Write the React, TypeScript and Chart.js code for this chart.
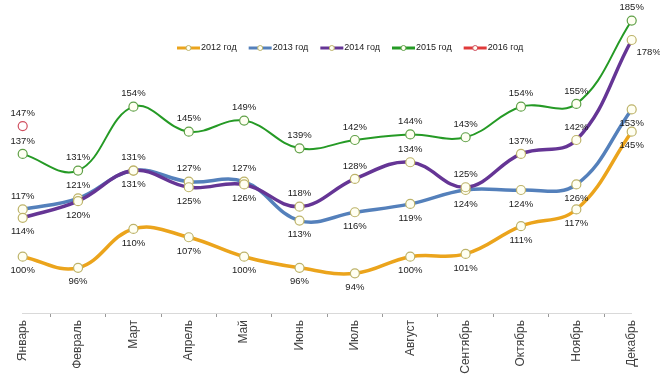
import React, { useEffect, useRef } from 'react';
import { Chart, registerables } from 'chart.js';

Chart.register(...registerables);

const months = ['Январь', 'Февраль', 'Март', 'Апрель', 'Май', 'Июнь', 'Июль', 'Август', 'Сентябрь', 'Октябрь', 'Ноябрь', 'Декабрь'];
const seriesNames = ['2012 год', '2013 год', '2014 год', '2015 год', '2016 год'];

const values2012 = [100, 96, 110, 107, 100, 96, 94, 100, 101, 111, 117, 145];
const values2013 = [117, 121, 131, 127, 127, 113, 116, 119, 124, 124, 126, 153];
const values2014 = [114, 120, 131, 125, 126, 118, 128, 134, 125, 137, 142, 178];
const values2015 = [137, 131, 154, 145, 149, 139, 142, 144, 143, 154, 155, 185];
const values2016 = [147, null, null, null, null, null, null, null, null, null, null, null];

// which side of the point each value label sits: a = above, b = below, r = right
const sides2012 = ['b', 'b', 'b', 'b', 'b', 'b', 'b', 'b', 'b', 'b', 'b', 'b'];
const sides2013 = ['a', 'a', 'a', 'a', 'a', 'b', 'b', 'b', 'b', 'b', 'b', 'b'];
const sides2014 = ['b', 'b', 'b', 'b', 'b', 'a', 'a', 'a', 'a', 'a', 'a', 'r'];
const sides2015 = ['a', 'a', 'a', 'a', 'a', 'a', 'a', 'a', 'a', 'a', 'a', 'a'];
const sides2016 = ['a'];

const FONT = '"Liberation Sans", Arial, sans-serif';

const valueLabelPlugin = {
  id: 'valueLabels',
  afterDatasetsDraw(chart: any) {
    const ctx = chart.ctx;
    ctx.save();
    ctx.font = `9.5px ${FONT}`;
    ctx.fillStyle = '#1a1a1a';
    ctx.textAlign = 'center';
    ctx.textBaseline = 'middle';
    chart.data.datasets.forEach((ds: any, di: number) => {
      const meta = chart.getDatasetMeta(di);
      meta.data.forEach((pt: any, i: number) => {
        const v = ds.data[i];
        if (v === null || v === undefined) return;
        const side = ds.labelSides[i] || 'a';
        let x = pt.x;
        let y = pt.y;
        if (side === 'a') y -= 13;
        else if (side === 'b') y += 14;
        else { x += 17; y += 12; }
        ctx.fillText(`${v}%`, x, y);
      });
    });
    ctx.restore();
  },
};

const legendPlugin = {
  id: 'customLegend',
  afterDraw(chart: any) {
    const ctx = chart.ctx;
    ctx.save();
    ctx.font = `9px ${FONT}`;
    ctx.textBaseline = 'middle';
    ctx.textAlign = 'left';
    let x = 177;
    const y = 48;
    chart.data.datasets.forEach((ds: any) => {
      ctx.strokeStyle = ds.borderColor;
      ctx.lineWidth = 3;
      ctx.beginPath();
      ctx.moveTo(x, y);
      ctx.lineTo(x + 23, y);
      ctx.stroke();
      ctx.beginPath();
      ctx.arc(x + 11.5, y, 2.5, 0, Math.PI * 2);
      ctx.fillStyle = '#fffff2';
      ctx.fill();
      ctx.lineWidth = 1;
      ctx.strokeStyle = ds.pointBorderColor;
      ctx.stroke();
      ctx.fillStyle = '#1a1a1a';
      ctx.fillText(ds.label, x + 24, y);
      x += 24 + ctx.measureText(ds.label).width + 12;
    });
    ctx.restore();
  },
};

export default function App() {
  const canvasRef = useRef<HTMLCanvasElement | null>(null);

  useEffect(() => {
    if (!canvasRef.current) return;
    const mk = (i: number, data: any[], color: string, width: number, pointBorder: string, pointFill: string, sides: string[]) => ({
      label: seriesNames[i],
      data,
      borderColor: color,
      backgroundColor: color,
      borderWidth: width,
      tension: 0.4,
      pointRadius: 4.5,
      pointBorderWidth: 1.2,
      pointBackgroundColor: pointFill,
      pointBorderColor: pointBorder,
      order: 4 - i,
      clip: false,
      labelSides: sides,
    });
    const chart = new Chart(canvasRef.current, {
      type: 'line',
      data: {
        labels: months,
        datasets: [
          mk(0, values2012, '#eba41c', 3.5, '#bdb36a', '#fffff2', sides2012),
          mk(1, values2013, '#5480bb', 3.5, '#bdb36a', '#fffff2', sides2013),
          mk(2, values2014, '#653595', 3.5, '#bdb36a', '#fffff2', sides2014),
          mk(3, values2015, '#259a25', 2, '#5fa048', '#fffff2', sides2015),
          mk(4, values2016, '#e03a3a', 2, '#d05060', '#ffffff', sides2016),
        ] as any,
      },
      options: {
        responsive: false,
        animation: false,
        devicePixelRatio: 1,
        layout: { padding: { left: 22.7, right: 28.3, top: 10, bottom: 0 } },
        plugins: { legend: { display: false }, tooltip: { enabled: false } },
        scales: {
          x: {
            type: 'category',
            offset: false,
            grid: { offset: true, drawOnChartArea: false, drawTicks: true, tickLength: 4, color: '#999999' },
            border: { display: true, color: '#d9d9d9', width: 1 },
            ticks: {
              minRotation: 90,
              maxRotation: 90,
              autoSkip: false,
              padding: 3,
              color: '#404040',
              font: { family: FONT, size: 12 },
            },
            afterFit: (scale: any) => { scale.height = 66; },
          },
          y: {
            display: false,
            min: 79.73,
            max: 188.8,
          },
        },
      } as any,
      plugins: [valueLabelPlugin, legendPlugin],
    });
    return () => chart.destroy();
  }, []);

  return (
    <div style={{ position: 'fixed', left: 0, top: 0, width: 660, height: 379, background: '#fff' }}>
      <canvas ref={canvasRef} width={660} height={379} style={{ display: 'block' }} />
    </div>
  );
}
